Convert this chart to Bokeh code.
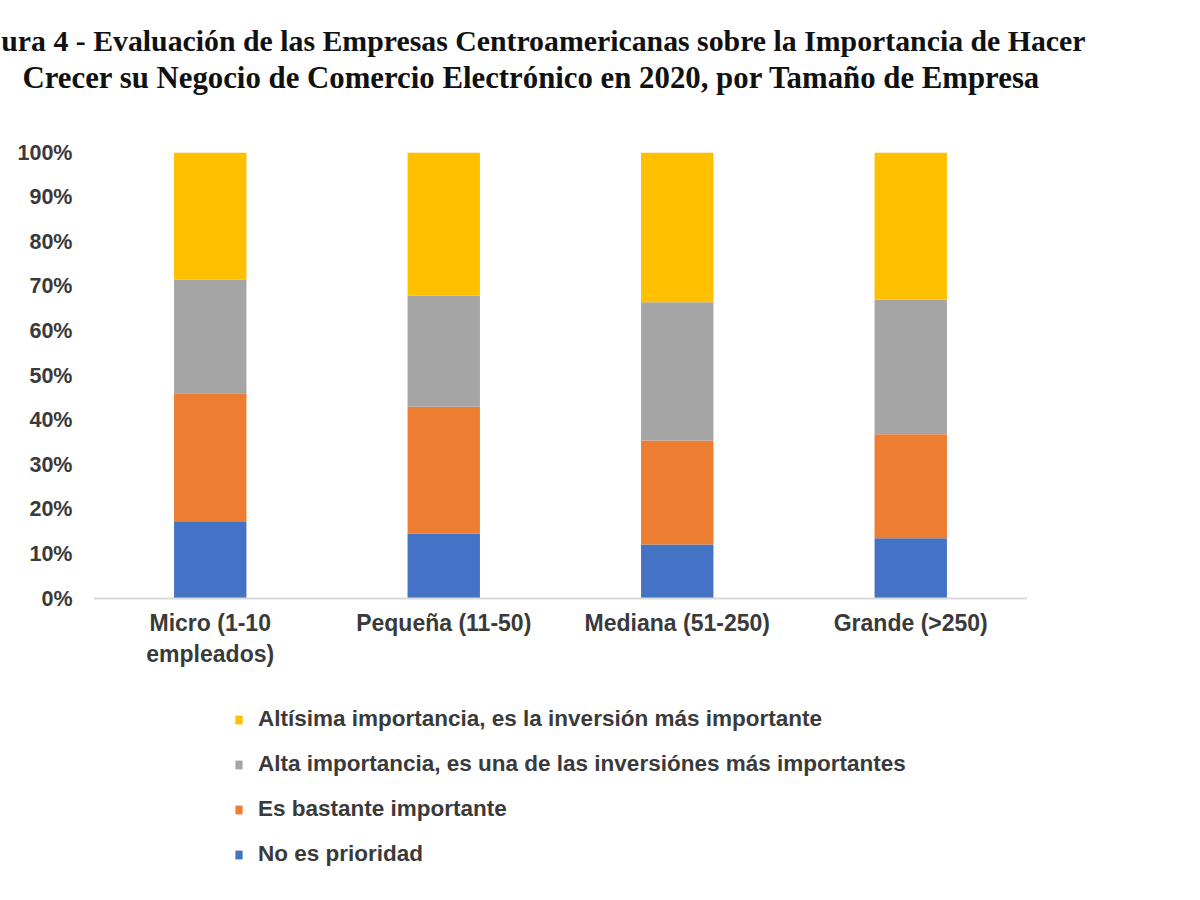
from bokeh.plotting import figure
from bokeh.models import (FactorRange, Range1d, NumeralTickFormatter, FixedTicker,
                          Legend, LegendItem, Title)
from bokeh.embed import file_html
from bokeh.resources import INLINE

# ---- data ----
categories = ["Micro (1-10\nempleados)", "Pequeña (11-50)", "Mediana (51-250)", "Grande (>250)"]
no_prioridad = [0.173, 0.146, 0.121, 0.135]
bastante = [0.287, 0.284, 0.233, 0.233]
alta = [0.255, 0.249, 0.310, 0.302]
altisima = [0.285, 0.321, 0.336, 0.330]
series_keys = ["no_prioridad", "bastante", "alta", "altisima"]
series_labels = ["No es prioridad", "Es bastante importante",
                 "Alta importancia, es una de las inversiónes más importantes",
                 "Altísima importancia, es la inversión más importante"]
series_colors = ["#4472C4", "#ED7D31", "#A5A5A5", "#FFC000"]
y_ticks = [0, 0.1, 0.2, 0.3, 0.4, 0.5, 0.6, 0.7, 0.8, 0.9, 1.0]
title_line1 = "ura 4 - Evaluación de las Empresas Centroamericanas sobre la Importancia de Hacer"
title_line2 = "Crecer su Negocio de Comercio Electrónico en 2020, por Tamaño de Empresa"

# ---- layout geometry (pixels) ----
W, H = 1184, 884
TOP, BOTTOM, LEFT, RIGHT = 152, 880, 93, 1027
PX_PER_UNIT = 446.0          # pixels for 0%..100%
y_start = 1.0 - (BOTTOM - TOP) / PX_PER_UNIT

source = dict(cat=categories, no_prioridad=no_prioridad, bastante=bastante,
              alta=alta, altisima=altisima)

p = figure(x_range=FactorRange(*categories), y_range=Range1d(y_start, 1.0),
           width=W, height=H, output_backend="svg", toolbar_location=None,
           min_border_left=LEFT, min_border_right=W - RIGHT, min_border_top=TOP,
           min_border_bottom=H - BOTTOM)
p.outline_line_color = None
p.xgrid.visible = False
p.ygrid.visible = False

# titles
p.title.text = title_line1
p.title.align = "right"
p.title.offset = -(1085 - RIGHT)
p.title.standoff = -110
p.title.text_font = "Liberation Serif"
p.title.text_font_style = "bold"
p.title.text_font_size = "29.8px"
p.title.text_color = "#111111"
t2 = Title(text=title_line2, align="left", offset=-(LEFT - 22), standoff=115,
           text_font="Liberation Serif", text_font_style="bold",
           text_font_size="30.8px", text_color="#111111")
p.add_layout(t2, "above")

rs = p.vbar_stack(series_keys, x="cat", width=0.31, color=series_colors,
                  line_color=None, source=source)

p.yaxis.ticker = FixedTicker(ticks=y_ticks)
p.yaxis.formatter = NumeralTickFormatter(format="0%")
p.yaxis.axis_line_color = None
p.yaxis.major_tick_line_color = None
p.yaxis.minor_tick_line_color = None
p.yaxis.major_label_standoff = 15
p.yaxis.major_label_text_font = "Liberation Sans"
p.yaxis.major_label_text_font_style = "bold"
p.yaxis.major_label_text_font_size = "21.5px"
p.yaxis.major_label_text_color = "#3a3a3a"

p.xaxis.fixed_location = 0
p.xaxis.axis_line_color = "#D9D9D9"
p.xaxis.axis_line_width = 2
p.xaxis.major_tick_line_color = None
p.xaxis.minor_tick_line_color = None
p.xaxis.major_label_standoff = 5
p.xaxis.major_label_text_font = "Liberation Sans"
p.xaxis.major_label_text_font_style = "bold"
p.xaxis.major_label_text_font_size = "23px"
p.xaxis.major_label_text_color = "#3a3a3a"

items = [LegendItem(label=series_labels[i], renderers=[rs[i]]) for i in reversed(range(len(rs)))]
legend = Legend(items=items, location=(234 - LEFT, BOTTOM - 867), orientation="vertical",
                glyph_width=9, glyph_height=11, label_standoff=15,
                label_height=26, spacing=19, padding=0, margin=0,
                border_line_alpha=0, background_fill_alpha=0,
                label_text_font="Liberation Sans", label_text_font_style="bold",
                label_text_font_size="22.5px", label_text_color="#3a3a3a")
p.add_layout(legend, "center")

open("out.html", "w").write(file_html(p, INLINE))
